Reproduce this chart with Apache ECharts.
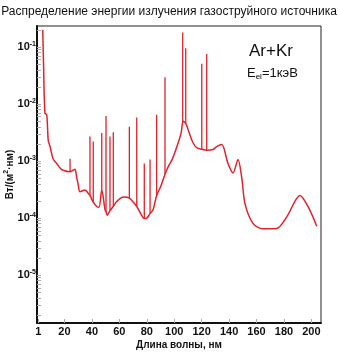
<!DOCTYPE html>
<html>
<head>
<meta charset="utf-8">
<script src="https://cdn.jsdelivr.net/npm/echarts@6/dist/echarts.min.js"></script>
<style>
  html, body { margin: 0; padding: 0; background: #fff; }
  #chart { width: 338px; height: 352px; }
</style>
</head>
<body>
<div id="chart"></div>
<script>
// continuum: wavelength (nm) and intensity W/(m2*nm)
const contX = [4.2, 4.7, 5.8, 7.1, 8.2, 9.5, 11.7, 14.4, 16.8, 19.0, 24.1, 26.2, 27.7, 28.9, 30.1, 31.3,
  35.0, 37.2, 38.6, 41.0, 43.5, 45.2, 47.2, 49.6, 50.3, 51.2, 53.2, 55.6, 58.1, 62.9, 67.3, 72.7, 75.8,
  78.2, 80.0, 82.4, 84.6, 87.2, 90.0, 93.3, 96.2, 98.4, 102.0, 105.0, 106.6, 108.6, 110.8, 113.7,
  116.6, 120.1, 123.7, 128.3, 131.0, 134.6, 139.2, 142.9, 146.5, 149.2, 151.6, 157.4, 164.7, 174.7,
  182.0, 191.7, 197.5, 203.9];
const contY = [0.20, 0.059, 6.9e-3, 6.5e-3, 2.3e-3, 1.8e-3, 1.1e-3, 9.1e-4, 7.6e-4, 6.9e-4, 6.5e-4, 6.9e-4,
  7.2e-4, 5.2e-4, 3.8e-4, 2.9e-4, 3.1e-4, 2.75e-4, 2.5e-4, 1.9e-4, 1.6e-4, 1.55e-4, 3.1e-4, 1.4e-4,
  1.3e-4, 1.12e-4, 1.35e-4, 1.6e-4, 1.95e-4, 2.35e-4, 2.25e-4, 1.6e-4, 1.17e-4, 9.8e-5, 1.0e-4,
  1.2e-4, 1.4e-4, 2.5e-4, 3.5e-4, 5.9e-4, 8.5e-4, 1.05e-3, 1.8e-3, 3.1e-3, 5.0e-3, 4.5e-3, 3.2e-3,
  2.1e-3, 1.7e-3, 1.62e-3, 1.55e-3, 1.6e-3, 1.8e-3, 1.95e-3, 9.1e-4, 6.2e-4, 1.07e-3, 5.2e-4,
  1.8e-4, 8.1e-5, 6.5e-5, 6.6e-5, 1.05e-4, 2.5e-4, 1.6e-4, 7.2e-5];

// emission lines: position, base (on continuum) and peak
const lineX = [24.1, 38.6, 41.0, 47.2, 50.3, 53.2, 55.6, 67.3, 72.7, 78.2, 82.4, 87.2, 93.3, 106.2, 108.4, 120.1, 123.7];
const lineBase = [6.5e-4, 2.5e-4, 1.9e-4, 3.1e-4, 1.3e-4, 1.35e-4, 1.6e-4, 2.25e-4, 1.6e-4, 9.8e-5, 1.2e-4, 2.5e-4, 5.9e-4, 4.8e-3, 4.5e-3, 1.62e-3, 1.55e-3];
const linePeak = [1.1e-3, 2.7e-3, 2.2e-3, 3.1e-3, 6.2e-3, 2.7e-3, 3.2e-3, 4.0e-3, 5.8e-3, 9.1e-4, 1.07e-3, 6.5e-3, 2.95e-2, 0.18, 0.095, 0.051, 0.076];

const xLabels = [1, 20, 40, 60, 80, 100, 120, 140, 160, 180, 200];
const yDecades = [-5, -4, -3, -2, -1];

const lg = v => Math.log10(v);
const contData = contX.map((x, i) => [x, lg(contY[i])]);
const lineData = [];
lineX.forEach((x, i) => {
  lineData.push([x, lg(lineBase[i])], [x, lg(linePeak[i])], [x, '-']);
});

// log-scale tick positions (1..9 x 10^e)
const yTicks = [];
for (let e = -6; e <= -1; e++) {
  for (let k = 1; k <= 9; k++) {
    const t = Math.log10(k) + e;
    if (t >= -5.84 && t <= -0.63) yTicks.push(t);
  }
}

const font = 'Arial, "Liberation Sans", sans-serif';
const red = '#e1222b';

const chart = echarts.init(document.getElementById('chart'));
chart.setOption({
  animation: false,
  title: {
    text: 'Распределение энергии излучения газоструйного источника',
    left: 'center',
    top: 1,
    textStyle: { fontFamily: font, fontSize: 12, fontWeight: 'normal', color: '#111' }
  },
  grid: {
    left: 37, right: 17, top: 26, bottom: 29,
    outerBoundsMode: 'none',
    containLabel: false,
    show: true, borderColor: '#222', borderWidth: 1
  },
  xAxis: {
    type: 'value',
    min: 0,
    max: 207,
    name: 'Длина волны, нм',
    nameLocation: 'middle',
    nameGap: 17,
    nameMoveOverlap: false,
    nameTextStyle: { fontFamily: font, fontSize: 10, fontWeight: 'bold', color: '#111' },
    axisLine: { lineStyle: { color: '#111', width: 2 } },
    axisTick: { inside: true, length: 4, customValues: xLabels, lineStyle: { color: '#aaa' } },
    axisLabel: {
      customValues: xLabels, margin: 3,
      fontFamily: font, fontSize: 11, fontWeight: 'bold', color: '#111'
    },
    splitLine: { show: false }
  },
  yAxis: {
    type: 'value',
    min: -5.84,
    max: -0.63,
    name: 'Вт/(м{s|2}·нм)',
    nameLocation: 'middle',
    nameRotate: 90,
    nameGap: 20,
    nameMoveOverlap: false,
    nameTextStyle: {
      fontFamily: font, fontSize: 10, fontWeight: 'bold', color: '#111',
      rich: { s: { fontFamily: font, fontSize: 7, fontWeight: 'bold', color: '#111', padding: [0, 0, 7, 0] } }
    },
    axisLine: { show: true, lineStyle: { color: '#111', width: 2 } },
    axisTick: { inside: true, length: 4, customValues: yTicks, lineStyle: { color: '#aaa' } },
    axisLabel: {
      customValues: yDecades, margin: 1,
      formatter: v => '{b|10}{s|' + Math.round(v) + '}',
      rich: {
        b: { fontFamily: font, fontSize: 11, fontWeight: 'bold', color: '#111' },
        s: { fontFamily: font, fontSize: 7, fontWeight: 'bold', color: '#111', padding: [0, 0, 7, 0] }
      }
    },
    splitLine: { show: false }
  },
  graphic: [
    {
      type: 'text', left: 249, top: 43,
      style: { text: 'Ar+Kr', font: '17px ' + font, fill: '#111' }
    },
    {
      type: 'text', left: 247, top: 67,
      style: {
        text: '{a|E}{sub|el}{a|=1кэВ}',
        rich: {
          a: { fontFamily: font, fontSize: 13, fill: '#111', color: '#111' },
          sub: { fontFamily: font, fontSize: 8, color: '#111', padding: [6, 0, 0, 0] }
        }
      }
    }
  ],
  series: [
    {
      type: 'line',
      data: contData,
      smooth: 0.3,
      showSymbol: false,
      lineStyle: { color: red, width: 1.5 },
      z: 3
    },
    {
      type: 'line',
      data: lineData,
      showSymbol: false,
      connectNulls: false,
      lineStyle: { color: red, width: 1.3 },
      z: 4
    }
  ]
});
</script>
</body>
</html>
